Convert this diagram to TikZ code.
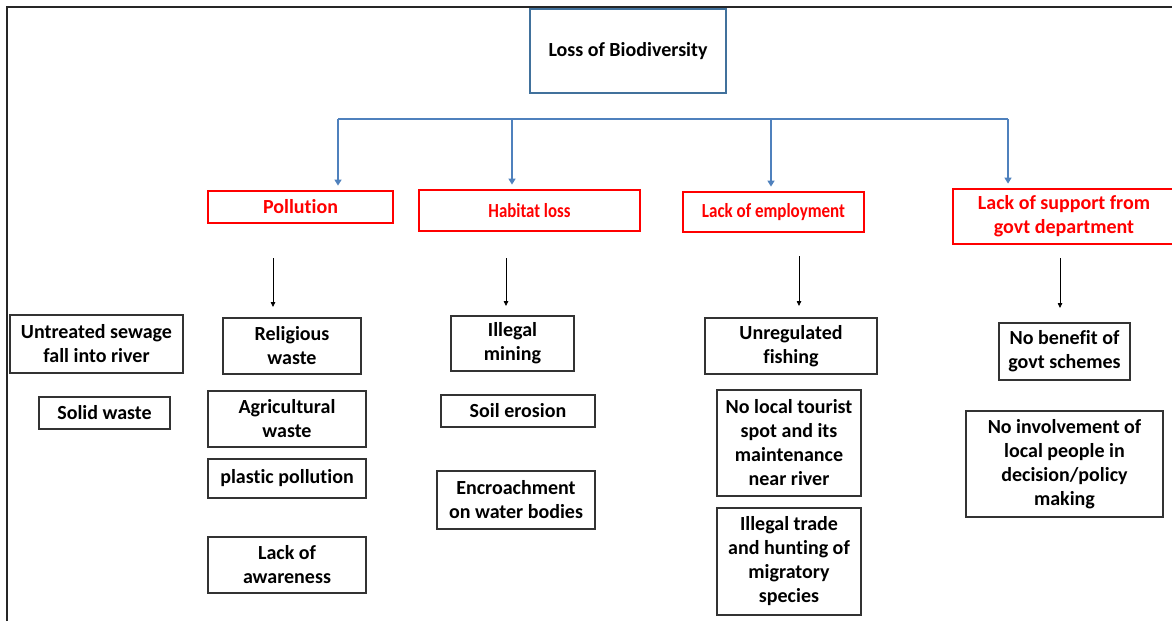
\documentclass[tikz,border=0pt]{standalone}
\usepackage{fontspec}
\setmainfont{Carlito}[Ligatures=NoCommon]
\usetikzlibrary{arrows.meta}
\definecolor{busblue}{RGB}{79,129,189}
\definecolor{titleblue}{RGB}{65,113,156}
\definecolor{hdrred}{RGB}{255,0,0}
\begin{document}
\begin{tikzpicture}[x=1pt,y=-1pt,
  every node/.style={font=\bfseries\fontsize{20}{24}\selectfont, align=center, inner sep=0pt},
  titlebox/.style={draw=titleblue, line width=1.5pt},
  hdrbox/.style={draw=hdrred, line width=2.8pt, text=hdrred},
  itembox/.style={draw=black!80, line width=1.3pt},
  bus/.style={draw=busblue, line width=2pt},
  busarrow/.style={bus, -{Triangle[length=6pt,width=7pt]}, shorten >=4pt},
  subarrow/.style={draw=black, line width=0.8pt, -{Triangle[length=5pt,width=4.5pt]}},
  frameline/.style={draw=black!85, line width=2pt}
]
\useasboundingbox (0,0) rectangle (1172,621);

% outer frame (left and top edges)
\coordinate (fTL) at (7,7);
\coordinate (fBL) at (7,621);
\coordinate (fTR) at (1172,7);
\draw[frameline] (fBL) -- (fTL) -- (fTR);

% root
\node[titlebox, minimum width=196pt, minimum height=84pt] (root) at (628,51) {Loss of Biodiversity};

% main causes
\node[hdrbox, minimum width=185pt, minimum height=32pt] (poll) at (300.5,207) {Pollution};
\node[hdrbox, minimum width=221pt, minimum height=41pt] (hab) at (529.5,210.5) {\scalebox{0.84}[1]{Habitat loss}};
\node[hdrbox, minimum width=181pt, minimum height=40pt] (emp) at (773.5,212) {\scalebox{0.85}[1]{Lack of employment}};
\node[hdrbox, minimum width=222pt, minimum height=55pt] (gov) at (1064,216.5) {Lack of support from\\govt department};

% distribution bus from the root
\coordinate (b1) at (338,119);
\coordinate (b2) at (512,119);
\coordinate (b3) at (771,119);
\coordinate (b4) at (1008,119);
\draw[bus] (b1) -- (b4);
\draw[busarrow] (b1) -- (b1 |- poll.north);
\draw[busarrow] (b2) -- (b2 |- hab.north);
\draw[busarrow] (b3) -- (b3 |- emp.north);
\draw[busarrow] (b4) -- (b4 |- gov.north);

% pollution details
\node[itembox, minimum width=173pt, minimum height=58pt] (sewage) at (96.5,344) {Untreated sewage\\fall into river};
\node[itembox, minimum width=131pt, minimum height=32pt] (solid) at (104.5,413) {Solid waste};
\node[itembox, minimum width=138pt, minimum height=56pt] (relig) at (292,346) {Religious\\waste};
\node[itembox, minimum width=158pt, minimum height=56pt] (agri) at (287,419) {Agricultural\\waste};
\node[itembox, minimum width=158pt, minimum height=39pt] (plastic) at (287,478.5) {plastic pollution};
\node[itembox, minimum width=158pt, minimum height=56pt] (aware) at (287,565) {Lack of\\awareness};

% habitat loss details
\node[itembox, minimum width=123pt, minimum height=55pt] (mining) at (512.5,343.5) {Illegal\\mining};
\node[itembox, minimum width=154pt, minimum height=32pt] (soil) at (518,411) {Soil erosion};
\node[itembox, minimum width=158pt, minimum height=58pt] (encr) at (516,500) {Encroachment\\on water bodies};

% employment details
\node[itembox, minimum width=172pt, minimum height=56pt] (fish) at (791,346) {Unregulated\\fishing};
\node[itembox, minimum width=144pt, minimum height=106pt] (tour) at (789,443) {No local tourist\\spot and its\\maintenance\\near river};
\node[itembox, minimum width=144pt, minimum height=107pt] (trade) at (789,561.5) {Illegal trade\\and hunting of\\migratory\\species};

% government support details
\node[itembox, minimum width=131pt, minimum height=57pt] (benefit) at (1064.5,351.5) {No benefit of\\govt schemes};
\node[itembox, minimum width=197pt, minimum height=106pt] (involve) at (1064.5,464) {No involvement of\\local people in\\decision/policy\\making};

% arrows from causes to details
\coordinate (a1s) at (273,258); \coordinate (a1e) at (273,307);
\coordinate (a2s) at (506,258); \coordinate (a2e) at (506,306);
\coordinate (a3s) at (799,256); \coordinate (a3e) at (799,306);
\coordinate (a4s) at (1060,258); \coordinate (a4e) at (1060,308);
\draw[subarrow] (a1s) -- (a1e);
\draw[subarrow] (a2s) -- (a2e);
\draw[subarrow] (a3s) -- (a3e);
\draw[subarrow] (a4s) -- (a4e);
\end{tikzpicture}
\end{document}
